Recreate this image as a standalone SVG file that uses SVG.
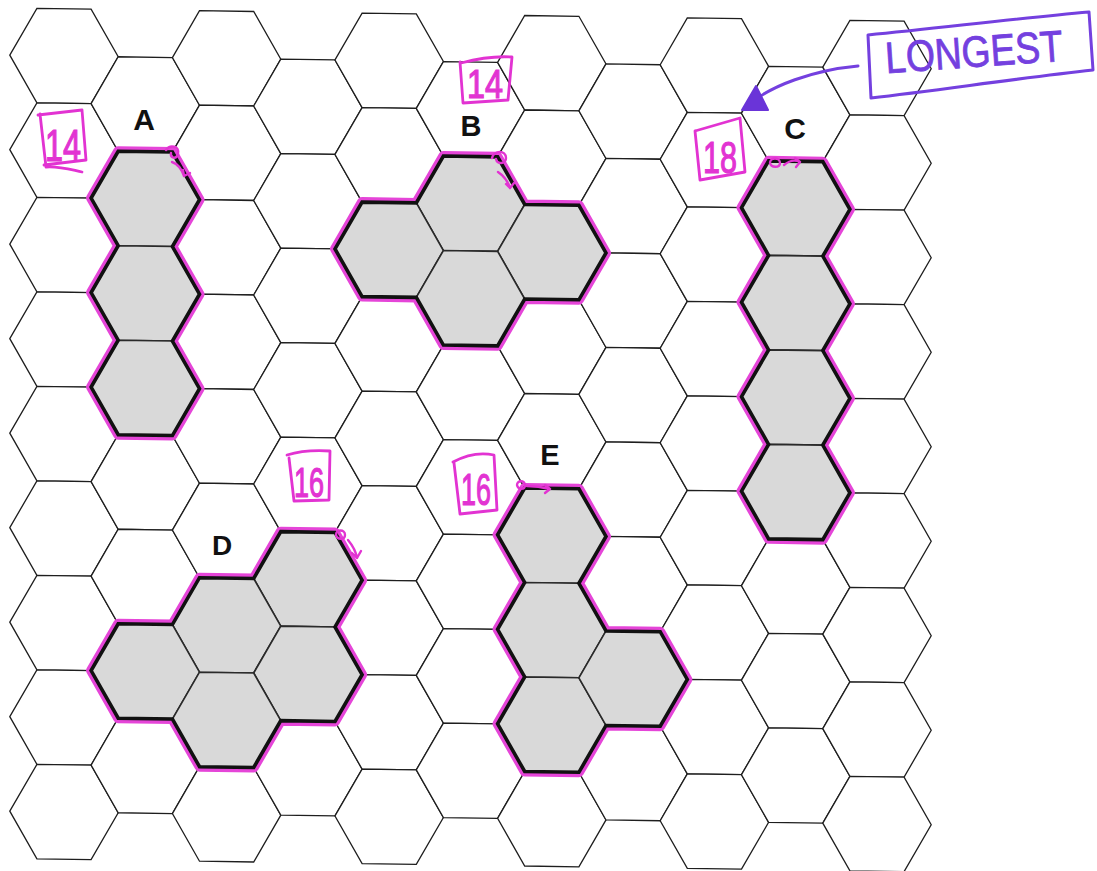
<svg xmlns="http://www.w3.org/2000/svg" xmlns:xlink="http://www.w3.org/1999/xlink" width="1097" height="871" viewBox="0 0 1097 871">
<style>
.g{fill:#fff;stroke:#1e1e1e;stroke-width:1.3}
.s{fill:#d9d9d9;stroke:#2a2a2a;stroke-width:1.6}
.ol{fill:none;stroke:#111;stroke-width:3.6;stroke-linejoin:miter}
.tr{fill:none;stroke:#e545d8;stroke-width:10;stroke-linejoin:round}
.lab{font-family:"Liberation Sans",Arial,sans-serif;font-weight:bold;fill:#111;text-anchor:middle}
.num{font-family:"Liberation Sans",Arial,sans-serif;fill:#e233d2;stroke:#e233d2;stroke-width:1.2;text-anchor:middle}
.box{fill:none;stroke:#e233d2;stroke-width:2.8;stroke-linejoin:round;stroke-linecap:round}
.curl{fill:none;stroke:#e233d2;stroke-width:2.4;stroke-linecap:round}
.pur{fill:none;stroke:#7440df;stroke-width:3;stroke-linejoin:round;stroke-linecap:round}
</style>
<defs>
<polygon id="hx" points="-54.2,0 -27.1,-47.25 27.1,-47.25 54.2,0 27.1,47.25 -27.1,47.25"/>
<g id="colE">
<use href="#hx" y="55"/><use href="#hx" y="149.5"/><use href="#hx" y="244"/><use href="#hx" y="338.5"/><use href="#hx" y="433"/><use href="#hx" y="527.5"/><use href="#hx" y="622"/><use href="#hx" y="716.5"/><use href="#hx" y="811"/>
</g>
<g id="colO">
<use href="#hx" y="102.25"/><use href="#hx" y="196.75"/><use href="#hx" y="291.25"/><use href="#hx" y="385.75"/><use href="#hx" y="480.25"/><use href="#hx" y="574.75"/><use href="#hx" y="669.25"/><use href="#hx" y="763.75"/>
</g>
<marker id="ah" viewBox="0 0 10 10" refX="9" refY="5" markerWidth="8" markerHeight="8" markerUnits="userSpaceOnUse" orient="auto">
<path d="M0,0 L10,5 L0,10 Z" fill="#6a34d8"/>
</marker>
</defs>
<rect width="1097" height="871" fill="#fff"/>
<g id="grid" class="g" transform="matrix(1 0.01476 0 1 0 0)">
<use href="#colE" x="64"/><use href="#colO" x="145.3"/><use href="#colE" x="226.6"/><use href="#colO" x="307.9"/><use href="#colE" x="389.2"/><use href="#colO" x="470.5"/><use href="#colE" x="551.8"/><use href="#colO" x="633.1"/><use href="#colE" x="714.4"/><use href="#colO" x="795.7"/><use href="#colE" x="877"/>
</g>
<g id="A">
<g transform="matrix(1 0.01476 0 1 0 0)">
<path class="tr" d="M118.2,149.5 L172.4,149.5 L199.5,196.75 L172.4,244 L199.5,291.25 L172.4,338.5 L199.5,385.75 L172.4,433 L118.2,433 L91.1,385.75 L118.2,338.5 L91.1,291.25 L118.2,244 L91.1,196.75 Z"/>
<g class="s"><use href="#hx" x="145.3" y="196.75"/><use href="#hx" x="145.3" y="291.25"/><use href="#hx" x="145.3" y="385.75"/></g>
<path class="ol" d="M118.2,149.5 L172.4,149.5 L199.5,196.75 L172.4,244 L199.5,291.25 L172.4,338.5 L199.5,385.75 L172.4,433 L118.2,433 L91.1,385.75 L118.2,338.5 L91.1,291.25 L118.2,244 L91.1,196.75 Z"/>
</g>
<text class="lab" x="144" y="130" font-size="30">A</text>
<path class="box" d="M38,115 L82,110 L86,160 L44,165 M40,114 L46,167 C60,166 72,170 82,172"/>
<text class="num" x="63" y="161" font-size="44" textLength="36" lengthAdjust="spacingAndGlyphs">14</text>
<path class="curl" d="M166,150 C170,144 180,146 178,154 C176,160 170,158 171,153 M172,162 C178,164 182,170 184,176 M184,176 L183,170 M184,176 L190,173"/>
</g>
<g id="B">
<g transform="matrix(1 0.01476 0 1 0 0)">
<path class="tr" d="M443.4,149.5 L497.6,149.5 L524.7,196.75 L578.9,196.75 L606,244 L578.9,291.25 L524.7,291.25 L497.6,338.5 L443.4,338.5 L416.3,291.25 L362.1,291.25 L335,244 L362.1,196.75 L416.3,196.75 Z"/>
<g class="s"><use href="#hx" x="470.5" y="196.75"/><use href="#hx" x="389.2" y="244"/><use href="#hx" x="551.8" y="244"/><use href="#hx" x="470.5" y="291.25"/></g>
<path class="ol" d="M443.4,149.5 L497.6,149.5 L524.7,196.75 L578.9,196.75 L606,244 L578.9,291.25 L524.7,291.25 L497.6,338.5 L443.4,338.5 L416.3,291.25 L362.1,291.25 L335,244 L362.1,196.75 L416.3,196.75 Z"/>
</g>
<text class="lab" x="471" y="136" font-size="29">B</text>
<path class="box" d="M461,63 C480,58 498,56 512,57 L508,100 L463,103 L460,62"/>
<text class="num" x="485" y="98" font-size="40" textLength="36" lengthAdjust="spacingAndGlyphs">14</text>
<path class="curl" d="M492,158 C494,150 506,150 506,158 C506,164 497,165 496,159 M498,172 C504,176 508,182 510,188 M510,188 L506,184 M510,188 L514,183"/>
</g>
<g id="C">
<g transform="matrix(1 0.01476 0 1 0 0)">
<path class="tr" d="M768.6,149.5 L822.8,149.5 L849.9,196.75 L822.8,244 L849.9,291.25 L822.8,338.5 L849.9,385.75 L822.8,433 L849.9,480.25 L822.8,527.5 L768.6,527.5 L741.5,480.25 L768.6,433 L741.5,385.75 L768.6,338.5 L741.5,291.25 L768.6,244 L741.5,196.75 Z"/>
<g class="s"><use href="#hx" x="795.7" y="196.75"/><use href="#hx" x="795.7" y="291.25"/><use href="#hx" x="795.7" y="385.75"/><use href="#hx" x="795.7" y="480.25"/></g>
<path class="ol" d="M768.6,149.5 L822.8,149.5 L849.9,196.75 L822.8,244 L849.9,291.25 L822.8,338.5 L849.9,385.75 L822.8,433 L849.9,480.25 L822.8,527.5 L768.6,527.5 L741.5,480.25 L768.6,433 L741.5,385.75 L768.6,338.5 L741.5,291.25 L768.6,244 L741.5,196.75 Z"/>
</g>
<text class="lab" x="795" y="139" font-size="30">C</text>
<path class="box" d="M695,131 L740,118 L745,172 L700,180 L695,131"/>
<text class="num" x="720" y="173" font-size="44" textLength="34" lengthAdjust="spacingAndGlyphs">18</text>
<path class="curl" d="M770,163 C770,157 780,157 780,163 C780,168 771,168 770,163 M784,165 C790,160 796,160 800,162 M800,162 L795,158 M800,162 L796,167"/>
</g>
<g id="D">
<g transform="matrix(1 0.01476 0 1 0 0)">
<path class="tr" d="M280.8,527.5 L335,527.5 L362.1,574.75 L335,622 L362.1,669.25 L335,716.5 L280.8,716.5 L253.7,763.75 L199.5,763.75 L172.4,716.5 L118.2,716.5 L91.1,669.25 L118.2,622 L172.4,622 L199.5,574.75 L253.7,574.75 Z"/>
<g class="s"><use href="#hx" x="307.9" y="574.75"/><use href="#hx" x="226.6" y="622"/><use href="#hx" x="145.3" y="669.25"/><use href="#hx" x="307.9" y="669.25"/><use href="#hx" x="226.6" y="716.5"/></g>
<path class="ol" d="M280.8,527.5 L335,527.5 L362.1,574.75 L335,622 L362.1,669.25 L335,716.5 L280.8,716.5 L253.7,763.75 L199.5,763.75 L172.4,716.5 L118.2,716.5 L91.1,669.25 L118.2,622 L172.4,622 L199.5,574.75 L253.7,574.75 Z"/>
</g>
<text class="lab" x="222" y="555" font-size="28">D</text>
<path class="box" d="M287,455 C300,451 315,450 330,451 L329,500 L294,501 L289,458"/>
<text class="num" x="309" y="497" font-size="42" textLength="30" lengthAdjust="spacingAndGlyphs">16</text>
<path class="curl" d="M336,535 C336,529 345,529 345,535 C345,540 337,540 336,535 M348,540 C353,546 356,552 357,558 M357,558 L352,553 M357,558 L361,551"/>
</g>
<g id="E">
<g transform="matrix(1 0.01476 0 1 0 0)">
<path class="tr" d="M524.7,480.25 L578.9,480.25 L606,527.5 L578.9,574.75 L606,622 L660.2,622 L687.3,669.25 L660.2,716.5 L606,716.5 L578.9,763.75 L524.7,763.75 L497.6,716.5 L524.7,669.25 L497.6,622 L524.7,574.75 L497.6,527.5 Z"/>
<g class="s"><use href="#hx" x="551.8" y="527.5"/><use href="#hx" x="551.8" y="622"/><use href="#hx" x="551.8" y="716.5"/><use href="#hx" x="633.1" y="669.25"/></g>
<path class="ol" d="M524.7,480.25 L578.9,480.25 L606,527.5 L578.9,574.75 L606,622 L660.2,622 L687.3,669.25 L660.2,716.5 L606,716.5 L578.9,763.75 L524.7,763.75 L497.6,716.5 L524.7,669.25 L497.6,622 L524.7,574.75 L497.6,527.5 Z"/>
</g>
<text class="lab" x="550" y="465" font-size="29">E</text>
<path class="box" d="M453,462 C466,455 480,452 494,455 L497,510 L460,514 L454,463"/>
<text class="num" x="476" y="505" font-size="44" textLength="30" lengthAdjust="spacingAndGlyphs">16</text>
<path class="curl" d="M517,485 C517,480 525,480 525,485 C525,490 518,490 517,485 M527,486 C534,486 542,487 550,489 M550,489 L545,485 M550,489 L545,493"/>
</g>
<g id="longest">
<path class="pur" d="M868,35 C940,28 1020,18 1089,12 L1093,70 C1020,78 940,90 871,98 Z"/>
<text x="975" y="67" font-family="Liberation Sans,Arial,sans-serif" font-size="44" fill="#7440df" stroke="#7440df" stroke-width="0.8" text-anchor="middle" textLength="178" lengthAdjust="spacingAndGlyphs" transform="rotate(-4 975 67)">LONGEST</text>
</g>
<g id="connectors">
<path class="pur" d="M858,66 C815,70 770,85 746,107" marker-end="url(#ah)"/>
<path d="M742,110 L756,86 L768,110 Z" fill="#6a34d8" stroke="#6a34d8" stroke-width="2" stroke-linejoin="round"/>
</g>
</svg>
